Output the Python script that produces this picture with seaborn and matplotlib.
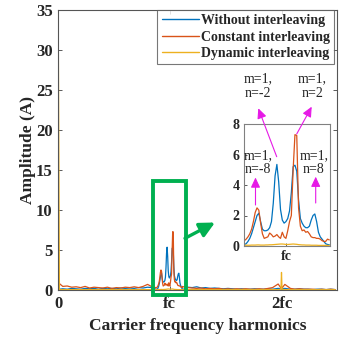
import numpy as np
import pandas as pd
import matplotlib
matplotlib.use("Agg")
import matplotlib.pyplot as plt
import seaborn as sns
from matplotlib.patches import Rectangle
from matplotlib.lines import Line2D

# ---------------- data ----------------
series_names = ["Without interleaving", "Constant interleaving", "Dynamic interleaving"]

# background spectrum (x in multiples of fc)
bg_x = [0.00, 0.01, 0.04, 0.08, 0.12, 0.16, 0.20, 0.24, 0.28, 0.32, 0.36, 0.40,
        0.44, 0.48, 0.52, 0.56, 0.60, 0.64, 0.68, 0.72, 0.76, 0.80, 0.84,
        1.16, 1.20, 1.24, 1.28, 1.32, 1.36, 1.40, 1.44, 1.48, 1.52, 1.56, 1.60,
        1.64, 1.68, 1.72, 1.76, 1.80, 1.84, 1.88, 1.92, 1.97, 1.995, 2.00, 2.005,
        2.03, 2.08, 2.12, 2.16, 2.20, 2.24, 2.28, 2.32, 2.36, 2.40, 2.44, 2.48]
bg_without = [0.05, 0.10, 0.15, 0.10, 0.20, 0.15, 0.10, 0.20, 0.15, 0.20, 0.10, 0.20,
              0.15, 0.20, 0.15, 0.25, 0.20, 0.25, 0.20, 0.30, 0.25, 0.35, 0.30,
              0.35, 0.30, 0.40, 0.25, 0.30, 0.20, 0.25, 0.20, 0.15, 0.20, 0.15, 0.10,
              0.15, 0.10, 0.10, 0.15, 0.10, 0.10, 0.15, 0.10, 0.20, 0.15, 0.10, 0.15,
              0.20, 0.10, 0.10, 0.15, 0.10, 0.10, 0.05, 0.10, 0.10, 0.05, 0.10, 0.05]
bg_constant = [0.10, 0.80, 0.45, 0.50, 0.35, 0.40, 0.30, 0.45, 0.25, 0.35, 0.30, 0.25,
               0.35, 0.20, 0.30, 0.25, 0.35, 0.30, 0.40, 0.30, 0.45, 0.70, 0.40,
               0.30, 0.25, 0.20, 0.25, 0.15, 0.20, 0.15, 0.20, 0.10, 0.15, 0.10, 0.15,
               0.10, 0.15, 0.10, 0.10, 0.15, 0.10, 0.20, 0.30, 0.75, 0.25, 0.20, 0.25,
               0.70, 0.20, 0.10, 0.15, 0.10, 0.10, 0.10, 0.05, 0.10, 0.05, 0.10, 0.05]
bg_dynamic = [32.0, 0.05, 0.05, 0.05, 0.05, 0.05, 0.05, 0.05, 0.05, 0.05, 0.05, 0.05,
              0.05, 0.05, 0.05, 0.05, 0.05, 0.05, 0.05, 0.05, 0.05, 0.05, 0.05,
              0.05, 0.05, 0.05, 0.05, 0.05, 0.05, 0.05, 0.05, 0.05, 0.05, 0.05, 0.05,
              0.05, 0.05, 0.05, 0.05, 0.05, 0.05, 0.05, 0.05, 0.05, 0.10, 2.20, 0.10,
              0.05, 0.05, 0.05, 0.05, 0.05, 0.05, 0.05, 0.05, 0.05, 0.05, 0.05, 0.05]

# sidebands around fc (n = multiples of the fundamental, fundamental = 0.01 fc)
sb_n = [-12, -11.5, -11, -10.5, -10, -9.5, -9, -8.5, -8, -7.5, -7, -6.5, -6, -5.5,
        -5, -4.5, -4, -3.5, -3, -2.5, -2, -1.5, -1, -0.5, 0, 0.5, 1, 1.5, 2, 2.5,
        3, 3.5, 4, 4.5, 5, 5.5, 6, 6.5, 7, 7.5, 8, 8.5, 9, 9.5, 10, 10.5, 11, 11.5, 12]
sb_without = [0.08, 0.10, 0.15, 0.30, 0.50, 0.80, 1.20, 1.60, 2.00, 2.15, 1.60, 1.10,
              1.00, 1.00, 1.05, 1.20, 1.60, 2.80, 4.60, 5.35, 4.20, 2.40, 1.70, 1.50,
              1.60, 1.80, 2.30, 3.50, 5.20, 5.30, 4.90, 3.00, 1.80, 1.50, 1.30, 1.20,
              1.20, 1.30, 1.70, 2.00, 2.10, 1.60, 0.90, 0.60, 0.45, 0.30, 0.15, 0.10, 0.08]
sb_constant = [0.28, 0.35, 0.45, 0.60, 0.80, 1.10, 1.60, 2.20, 2.50, 2.35, 1.50, 0.80,
               0.50, 0.55, 0.60, 0.85, 0.75, 0.60, 0.65, 0.75, 0.60, 0.50, 0.90, 0.60,
               0.50, 1.00, 1.60, 2.00, 5.00, 7.30, 7.25, 2.50, 1.30, 1.00, 1.05, 0.90,
               0.95, 0.80, 0.60, 0.55, 0.55, 0.50, 0.50, 0.45, 0.35, 0.30, 0.30, 0.45, 0.40]
sb_dynamic = [0.04, 0.04, 0.05, 0.05, 0.05, 0.06, 0.06, 0.06, 0.07, 0.07, 0.06, 0.06,
              0.06, 0.07, 0.07, 0.08, 0.08, 0.09, 0.10, 0.11, 0.12, 0.13, 0.13, 0.12,
              0.10, 0.10, 0.11, 0.12, 0.13, 0.12, 0.11, 0.09, 0.08, 0.07, 0.07, 0.06,
              0.06, 0.06, 0.05, 0.05, 0.05, 0.05, 0.04, 0.04, 0.04, 0.04, 0.04, 0.04, 0.04]

x_ticks = [0, 1, 2]
x_ticklabels = ["0", "fc", "2fc"]
y_ticks = [0, 5, 10, 15, 20, 25, 30, 35]
inset_yticks = [0, 2, 4, 6, 8]

# ---------------- build tables ----------------
sb_x = [1 + n * 0.01 for n in sb_n]
rows = []
for name, bg, sb in zip(series_names, [bg_without, bg_constant, bg_dynamic],
                        [sb_without, sb_constant, sb_dynamic]):
    for x, v in zip(bg_x, bg):
        rows.append((name, x, v))
    for x, v in zip(sb_x, sb):
        rows.append((name, x, v))
df = pd.DataFrame(rows, columns=["series", "x", "amp"])
df_inset = pd.DataFrame(
    [(name, x, v) for name, sb in zip(series_names, [sb_without, sb_constant, sb_dynamic])
     for x, v in zip(sb_x, sb)], columns=["series", "x", "amp"])

colors = ["#0072BD", "#D95319", "#EDB120"]
palette = dict(zip(series_names, colors))

# ---------------- style ----------------
sns.set_style("ticks")
plt.rcParams["font.family"] = ["Liberation Serif", "DejaVu Serif"]
plt.rcParams["font.weight"] = "bold"
plt.rcParams["axes.labelweight"] = "bold"

FW, FH = 341, 338
def fx(px):
    return px / FW
def fy(py):
    return 1 - py / FH

fig = plt.figure(figsize=(FW / 100, FH / 100), dpi=100)
ax = fig.add_axes([fx(58.3), fy(290), (337.3 - 58.3) / FW, (290 - 10) / FH])

sns.lineplot(data=df, x="x", y="amp", hue="series", hue_order=series_names,
             palette=palette, estimator=None, sort=True, linewidth=0.9,
             ax=ax, legend=False)
ax.set_xlim(0, 2.5)
ax.set_ylim(0, 35)
ax.set_xticks(x_ticks)
ax.set_xticklabels(x_ticklabels)
ax.set_yticks(y_ticks)
ax.tick_params(direction="in", top=True, right=True, length=3, width=0.6,
               labelsize=12, pad=4, color="#404040")
ax.set_xlabel("Carrier frequency harmonics", fontsize=12.5, labelpad=5)
ax.set_ylabel("Amplitude (A)", fontsize=12.5, labelpad=0)
for s in ax.spines.values():
    s.set_color("#555555")
    s.set_linewidth(0.8)

# legend
handles = [Line2D([], [], color=c, lw=1.0) for c in colors]
leg = ax.legend(handles, series_names, loc="upper right",
                bbox_to_anchor=(fx(334.3), fy(10)), bbox_transform=fig.transFigure,
                fontsize=10, frameon=True, fancybox=False, borderaxespad=0,
                handlelength=2.7, handletextpad=0.15, labelspacing=0.25,
                borderpad=0.3)
leg.get_frame().set_edgecolor("#555555")
leg.get_frame().set_linewidth(0.8)

# green box
green = "#00B050"
ax.add_patch(Rectangle((0.85, -0.6), 0.292, 14.2, fill=False, ec=green, lw=2.8,
                       clip_on=False, zorder=5))
ax.annotate("", xy=(fx(215), fy(222.5)), xytext=(fx(185), fy(238.3)),
            xycoords="figure fraction", textcoords="figure fraction",
            arrowprops=dict(arrowstyle="-|>,head_length=0.9,head_width=0.45",
                            color=green, lw=2.4, shrinkA=0, shrinkB=0,
                            mutation_scale=10))

# inset
ax2 = fig.add_axes([fx(244), fy(246), (330 - 244) / FW, (246 - 124) / FH])
sns.lineplot(data=df_inset, x="x", y="amp", hue="series", hue_order=series_names,
             palette=palette, estimator=None, sort=True, linewidth=0.9,
             ax=ax2, legend=False)
ax2.set_xlim(0.884, 1.122)
ax2.set_ylim(0, 8)
ax2.set_xticks([1.0])
ax2.set_xticklabels(["fc"])
ax2.set_yticks(inset_yticks)
ax2.set_xlabel("")
ax2.set_ylabel("")
ax2.tick_params(direction="in", top=False, right=False, length=2, width=0.6,
                labelsize=10, pad=3, color="#404040")
for s in ax2.spines.values():
    s.set_color("#808080")
    s.set_linewidth(0.8)

# annotations
magenta = "#E619E6"
texts = [("m=1,\nn=-2", 258.3, 86), ("m=1,\nn=2", 312.3, 86),
         ("m=1,\nn=-8", 258, 162.5), ("m=1,\nn=8", 314, 162.5)]
for t, px, py in texts:
    fig.text(fx(px), fy(py), t, ha="center", va="center", fontsize=10,
             fontweight="normal", linespacing=1.15)

arrows = [((276.7, 156.7), (258.3, 108.3)), ((296.7, 134), (311.7, 106.7)),
          ((255.5, 205), (255.5, 177.5)), ((315.7, 203), (315.7, 176.7))]
for (tx, ty), (hx, hy) in arrows:
    ax2.annotate("", xy=(fx(hx), fy(hy)), xytext=(fx(tx), fy(ty)),
                 xycoords="figure fraction", textcoords="figure fraction",
                 annotation_clip=False,
                 arrowprops=dict(arrowstyle="-|>,head_length=0.6,head_width=0.28",
                                 color=magenta, lw=0.8, shrinkA=0, shrinkB=0,
                                 mutation_scale=10))

fig.savefig("out.png", dpi=100)
